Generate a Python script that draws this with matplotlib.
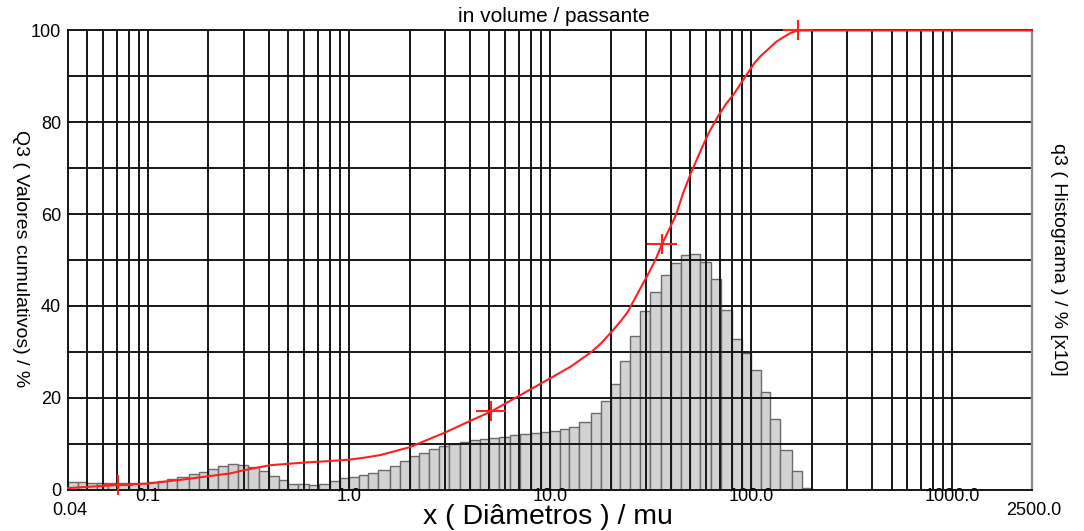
import matplotlib
matplotlib.use("Agg")
import matplotlib.pyplot as plt

# class edges (um), R20 series from 0.04 to 200
class_edges = [0.04, 0.045, 0.05, 0.056, 0.063, 0.071, 0.08, 0.09,
               0.1, 0.112, 0.125, 0.14, 0.16, 0.18, 0.2, 0.224, 0.25, 0.28, 0.315, 0.355,
               0.4, 0.45, 0.5, 0.56, 0.63, 0.71, 0.8, 0.9,
               1.0, 1.12, 1.25, 1.4, 1.6, 1.8, 2.0, 2.24, 2.5, 2.8, 3.15, 3.55,
               4.0, 4.5, 5.0, 5.6, 6.3, 7.1, 8.0, 9.0,
               10, 11.2, 12.5, 14, 16, 18, 20, 22.4, 25, 28, 31.5, 35.5,
               40, 45, 50, 56, 63, 71, 80, 90,
               100, 112, 125, 140, 160, 180, 200]

# q3 histogram (% x10)
q3_hist = [1.6, 1.6, 1.5, 1.4, 1.4, 1.4, 1.4, 1.5,
           1.6, 1.9, 2.3, 2.8, 3.3, 3.8, 4.4, 5.2, 5.5, 5.4, 4.8, 4.0, 3.0, 2.0, 1.3, 1.1, 1.0, 1.2, 1.9, 2.4,
           2.8, 3.2, 3.7, 4.3, 5.2, 6.2, 7.2, 8.0, 8.8, 9.4, 10.0, 10.4, 10.7, 10.9, 11.2, 11.5, 11.8, 12.1, 12.3, 12.5,
           12.8, 13.1, 13.6, 14.8, 16.7, 19.2, 23.0, 28.0, 33.5, 38.8, 43.0, 46.8, 49.4, 51.1, 51.2, 49.5, 45.8, 39.0, 32.8, 29.7,
           26.1, 21.2, 15.3, 8.5, 4.0, 0.4]

# Q3 cumulative (passante)
cum_x = [0.04, 0.071, 0.1, 0.145, 0.2, 0.256, 0.3, 0.406, 0.5, 0.614, 0.8, 1.0, 1.18, 1.43,
         2.0, 3.0, 4.03, 5.1, 6.88, 10.0, 12.7, 16.0, 17.9, 20.1, 22.5, 24.3, 28.3, 30.6,
         33.6, 36.0, 39.0, 42.3, 45.9, 50.2, 56.4, 61.8, 68.3, 75.1, 82.6, 92.6, 104,
         112, 121, 133, 147, 158, 171, 2500]
cum_y = [0.3, 1.0, 1.3, 2.1, 2.9, 3.5, 4.2, 5.3, 5.6, 5.9, 6.2, 6.5, 6.9, 7.5,
         9.2, 12.4, 15.0, 17.0, 20.2, 24.2, 26.8, 29.9, 31.8, 34.2, 36.7, 38.6, 44.0, 46.7,
         50.2, 53.4, 56.5, 59.8, 64.5, 68.9, 74.0, 77.8, 81.2, 84.0, 86.3, 89.6, 92.9,
         94.5, 95.8, 97.5, 98.7, 99.5, 100, 100]

marker_x = [0.071, 5.1, 36.0, 171]
marker_y = [1.0, 17.0, 53.4, 100]

x_ticks = [0.1, 1, 10, 100, 1000]
x_tick_labels = ['0.1', '1.0', '10.0', '100.0', '1000.0']
x_ends = [0.04, 2500]
x_end_labels = ['0.04', '2500.0']
y_ticks = [0, 20, 40, 60, 80, 100]

plt.rcParams['font.family'] = ['Liberation Sans', 'DejaVu Sans']

W, H = 1084, 531
fig = plt.figure(figsize=(W / 100, H / 100), dpi=100)
ax = fig.add_axes([68 / W, 1 - 489.5 / H, (1032 - 68) / W, (489.5 - 30.5) / H])
ax.set_xscale('log')
ax.set_xlim(0.04, 2500)
ax.set_ylim(0, 100)

widths = [b - a for a, b in zip(class_edges[:-1], class_edges[1:])]
ax.bar(class_edges[:-1], q3_hist, width=widths, align='edge',
       color='#d3d3d3', edgecolor='#6a6a6a', linewidth=1.0, zorder=1)

# grid: log minor lines 0.05 .. 1000, horizontal every 10
grid_x = [m * d for d in [0.01, 0.1, 1, 10, 100] for m in range(1, 10)
          if 0.04 < m * d <= 1000]
grid_x.append(1000)
ax.vlines(grid_x, 0, 100, colors='#151515', linewidth=1.4, zorder=2)
ax.hlines(range(10, 100, 10), 0.04, 2500, colors='#151515', linewidth=1.4, zorder=2)

ax.plot(cum_x, cum_y, color='#ff1f1f', linewidth=1.5, zorder=4, clip_on=False)
ax.plot(marker_x, marker_y, ls='none', marker='|', markersize=14.5, markeredgewidth=1.5,
        color='#ff1f1f', zorder=5, clip_on=False)
ax.plot(marker_x, marker_y, ls='none', marker='_', markersize=22, markeredgewidth=1.5,
        color='#ff1f1f', zorder=5, clip_on=False)

ax.set_xticks([])
ax.minorticks_off()
ax.set_yticks(y_ticks)
ax.tick_params(axis='y', length=0, pad=5, labelsize=13)
for v, t in zip(x_ticks, x_tick_labels):
    ax.annotate(t, xy=(v, 0), xycoords=('data', 'axes fraction'), xytext=(0, -7),
                textcoords='offset pixels', ha='center', va='center', fontsize=13)
for v, t in zip(x_ends, x_end_labels):
    ax.annotate(t, xy=(v, 0), xycoords=('data', 'axes fraction'), xytext=(2, -21),
                textcoords='offset pixels', ha='center', va='center', fontsize=13)

for s in ['left', 'bottom', 'top']:
    ax.spines[s].set_color('#151515')
    ax.spines[s].set_linewidth(1.4)
ax.spines['right'].set_color('#8a8a8a')
ax.spines['right'].set_linewidth(1.6)

fig.text(20 / W, 1 - 259 / H, 'Q3 ( Valores cumulativos) / %', rotation=-90,
         ha='center', va='center', fontsize=14)
fig.text(1058 / W, 1 - 259 / H, 'q3 ( Histograma ) / % [x10]', rotation=-90,
         ha='center', va='center', fontsize=14)
fig.text(554 / W, 1 - 16 / H, 'in volume / passante', ha='center', va='center', fontsize=15)
fig.text(548 / W, 1 - 517 / H, 'x ( Diâmetros ) / mu', ha='center', va='center', fontsize=20.5)

fig.savefig('out.png', dpi=100)
